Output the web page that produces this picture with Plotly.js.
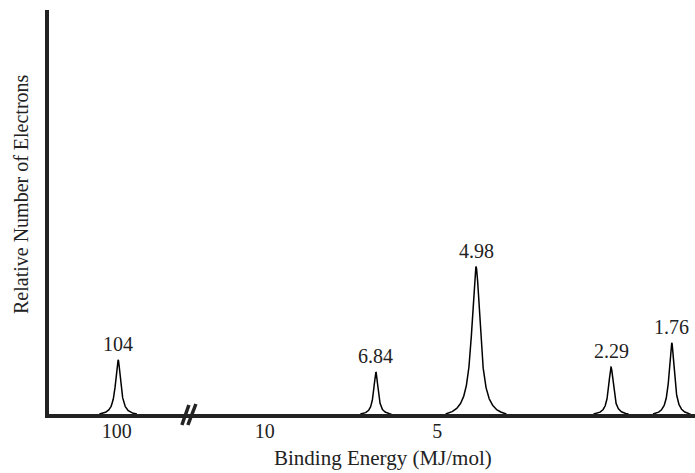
<!DOCTYPE html>
<html>
<head>
<meta charset="utf-8">
<script src="https://cdn.plot.ly/plotly-3.0.1.min.js"></script>
<style>html,body{margin:0;padding:0;background:#fff;}#chart{width:695px;height:473px;}</style>
</head>
<body>
<div id="chart"></div>
<script>
// Peak data (schematic, non-linear binding-energy axis; positions in axis units 0-100)
const peakLabels   = ["104", "6.84", "4.98", "2.29", "1.76"];
const peakPos      = [10.7, 50.6, 66.1, 87.0, 96.4];
const peakHeight   = [0.134, 0.104, 0.364, 0.116, 0.176];
const peakHalfBase = [2.9, 2.4, 4.7, 2.7, 2.9];

// Axis tick labels on the schematic axis
const tickPos   = [10.5, 33.4, 60.1];
const tickLabel = ["100", "10", "5"];
const breakPos  = 21.5;

const FONT = "Liberation Serif";

// Build a truncated Lorentzian-like profile for each peak
function profile(c, h, w) {
  const g = w / 6;
  const L = d => 1 / (1 + (d / g) * (d / g));
  const Lw = L(w);
  const xs = [], ys = [];
  const n = 400;
  for (let i = 0; i <= n; i++) {
    const d = -w + 2 * w * i / n;
    xs.push(c + d);
    ys.push(h * (L(d) - Lw) / (1 - Lw));
  }
  return {xs, ys};
}

const traces = peakPos.map((c, i) => {
  const p = profile(c, peakHeight[i], peakHalfBase[i]);
  return {
    x: p.xs, y: p.ys, type: "scatter", mode: "lines",
    line: {color: "#000", width: 1.5}, hoverinfo: "skip", showlegend: false
  };
});

const annotations = peakPos.map((c, i) => ({
  x: c, y: peakHeight[i], xref: "x", yref: "y",
  text: peakLabels[i], showarrow: false, yanchor: "bottom", yshift: 3,
  font: {family: FONT, size: 20, color: "#222"}
}));

annotations.push({
  xref: "paper", yref: "paper", x: -49/646, y: (414-194)/404,
  xanchor: "center", yanchor: "middle", xshift: 21, textangle: -90,
  text: "Relative Number of Electrons", showarrow: false,
  font: {family: FONT, size: 20, color: "#222"}
});
annotations.push({
  xref: "paper", yref: "paper", x: (383-49)/646, y: -(458-414)/404,
  xanchor: "center", yanchor: "middle",
  text: "Binding Energy (MJ/mol)", showarrow: false,
  font: {family: FONT, size: 21, color: "#222"}
});

const shapes = [
  {type: "line", xref: "x", yref: "paper", xsizemode: "pixel", ysizemode: "pixel",
   xanchor: breakPos, yanchor: 0, x0: -6, y0: -11, x1: 1, y1: 9,
   line: {color: "#222", width: 3.5}},
  {type: "line", xref: "x", yref: "paper", xsizemode: "pixel", ysizemode: "pixel",
   xanchor: breakPos, yanchor: 0, x0: 0, y0: -11, x1: 8, y1: 10,
   line: {color: "#222", width: 3.5}}
];

const layout = {
  width: 695, height: 473,
  margin: {l: 49, r: 0, t: 10, b: 59},
  paper_bgcolor: "#fff", plot_bgcolor: "#fff",
  showlegend: false,
  xaxis: {
    range: [0, 100], showgrid: false, zeroline: false,
    showline: true, linecolor: "#222", linewidth: 4,
    tickmode: "array", tickvals: tickPos, ticktext: tickLabel,
    ticks: "", ticklabelstandoff: -4,
    tickfont: {family: FONT, size: 20, color: "#222"}
  },
  yaxis: {
    range: [0, 1], showgrid: false, zeroline: false,
    showline: true, linecolor: "#222", linewidth: 4,
    showticklabels: false, ticks: ""
  },
  annotations, shapes
};

Plotly.newPlot("chart", traces, layout, {displayModeBar: false, staticPlot: true});
</script>
</body>
</html>
